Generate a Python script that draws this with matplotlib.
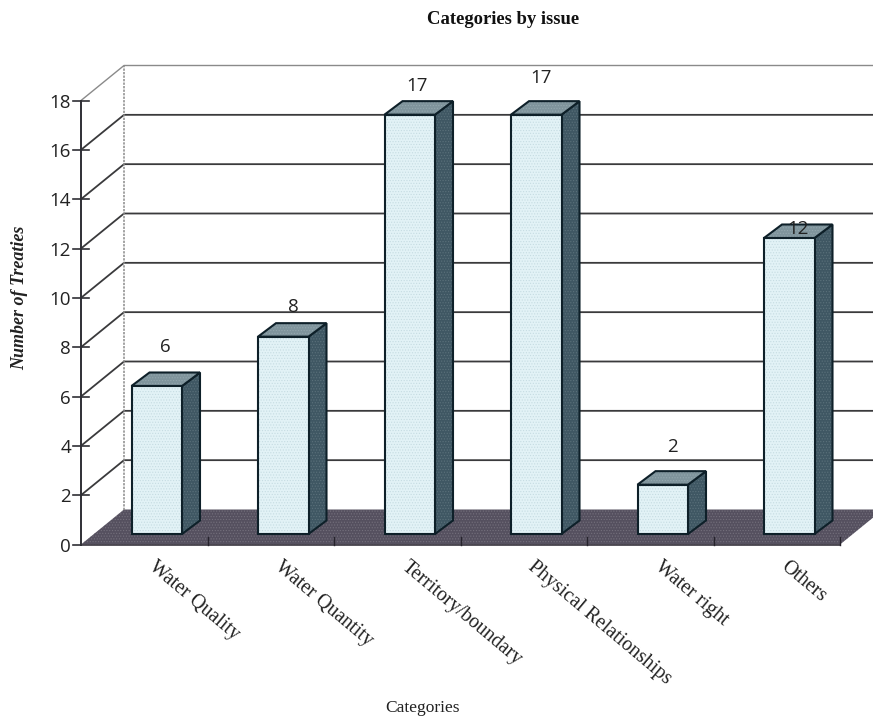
import matplotlib
matplotlib.use("Agg")
import matplotlib.pyplot as plt
from matplotlib.patches import Polygon
import numpy as np

categories = ["Water Quality", "Water Quantity", "Territory/boundary",
              "Physical Relationships", "Water right", "Others"]
values = [6, 8, 17, 17, 2, 12]
y_ticks = [0, 2, 4, 6, 8, 10, 12, 14, 16, 18]

# pixel nudges of the value labels, they sit unevenly in the original
label_dx = [9, 10.5, 7, 4.5, 9.5, 8.5]
label_dy = [39, 30, 29, 37, 38, 9]

W, H = 873, 718
SERIF = "Liberation Serif"
SANS = "Open Sans"

# the front plane of the fake 3d box is the axes
fig = plt.figure(figsize=(W / 100, H / 100), dpi=100)
ax = fig.add_axes([81 / W, (H - 544.5) / H, 759 / W, 444 / H])
ax.set_xlim(0, 6)
ax.set_ylim(0, 18)
ax.axis("off")

px = 6 / 759
py = 18 / 444
wall_dx, wall_dy = 43 * px, 35 * py
bar_x0, bar_y0 = 50.5 * px, 10.5 * py
bar_w = 50.5 * px
bar_dx, bar_dy = 18 * px, 13.5 * py

def poly(pts, **kw):
    p = Polygon(pts, closed=True, clip_on=False, **kw)
    ax.add_patch(p)
    return p

def stippled(pts, face, speck, zorder):
    # flat face with a dotted hatch on top for the scanned grain, then the outline
    poly(pts, facecolor=face, edgecolor=speck, hatch="......", linewidth=0, zorder=zorder)
    poly(pts, facecolor="none", edgecolor="#0e2029", linewidth=1.5, zorder=zorder)

# floor
plt.rcParams["hatch.linewidth"] = 0.5
poly([(0, 0), (6, 0), (6 + wall_dx, wall_dy), (wall_dx, wall_dy)],
     facecolor="#55505f", edgecolor="#74707c", hatch="......", linewidth=0, zorder=1)
ax.plot([0, 6], [0, 0], color="#3a3640", lw=1.2, clip_on=False, zorder=2)
for i in range(1, 7):
    ax.plot([i, i], [0, 8 * py], color="#26232c", lw=1.0, clip_on=False, zorder=2)

# grid lines, side wall and back wall
for t in y_ticks[1:]:
    top = t == 18
    c = "#8a8a8a" if top else "#3a3a3c"
    lw = 1.0 if top else 1.3
    ax.plot([0, wall_dx, 6 + wall_dx], [t, t + wall_dy, t + wall_dy],
            color=c, lw=lw, clip_on=False, zorder=1.5)
ax.plot([wall_dx, wall_dx], [wall_dy, 18 + wall_dy], color="#8a8a8a", lw=1.1,
        ls=(0, (1.5, 0.8)), clip_on=False, zorder=1.5)

# y axis
ax.plot([0, 0], [0, 18], color="#2f2f35", lw=1.4, clip_on=False, zorder=2)
for t in y_ticks:
    x1 = 0 if t == 0 else 8 * px
    ax.plot([-8 * px, x1], [t, t], color="#2f2f35", lw=1.2, clip_on=False, zorder=2)
    ax.annotate(str(t), (0, t), xytext=(-10, 0), textcoords="offset pixels",
                ha="right", va="center_baseline", fontsize=13.5, family=SANS, color="#222222")

# bars
for i, v in enumerate(values):
    x0 = i + bar_x0
    x1 = x0 + bar_w
    y0 = bar_y0
    y1 = y0 + v
    stippled([(x1, y0), (x1 + bar_dx, y0 + bar_dy), (x1 + bar_dx, y1 + bar_dy), (x1, y1)],
             "#3f5763", "#5b717b", 3)
    stippled([(x0, y1), (x1, y1), (x1 + bar_dx, y1 + bar_dy), (x0 + bar_dx, y1 + bar_dy)],
             "#7f949c", "#94a7ae", 3)
    stippled([(x0, y0), (x1, y0), (x1, y1), (x0, y1)],
             "#e2f2f6", "#c6dce2", 4)
    ax.annotate(str(v), (x0 + bar_w / 2, y1), xytext=(label_dx[i], label_dy[i]),
                textcoords="offset pixels", ha="center", va="center",
                fontsize=13.5, family=SANS, color="#222222", zorder=6)
    ax.annotate(categories[i], (i + 0.6, 0), xytext=(0, -13), textcoords="offset pixels",
                ha="left", va="top", rotation=-40, rotation_mode="anchor",
                fontsize=14.3, family=SERIF, color="#222222")

fig.text(503 / W, 1 - 20 / H, "Categories by issue", ha="center", va="center",
         fontsize=13.4, fontweight="bold", family=SERIF, color="#111111")
fig.text(422 / W, 1 - 708 / H, "Categories", ha="center", va="center",
         fontsize=12.5, family=SERIF, color="#222222")
fig.text(20 / W, 1 - 298 / H, "Number of Treaties", ha="center", va="center", rotation=90,
         fontsize=13, fontweight="bold", style="italic", family=SERIF, color="#222222")

fig.savefig("out.png", dpi=100, facecolor="white")
